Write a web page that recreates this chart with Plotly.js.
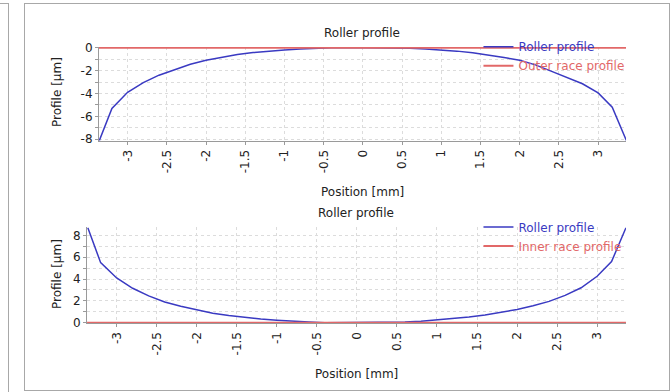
<!DOCTYPE html>
<html>
<head>
<meta charset="utf-8">
<script src="https://cdn.plot.ly/plotly-3.0.1.min.js"></script>
<style>
  html, body { margin: 0; padding: 0; background: #ffffff; width: 672px; height: 392px; overflow: hidden; }
  #leftFrame { position: absolute; left: -10px; top: 3px; width: 17px; height: 400px; border: 1px solid #a8a8a8; }
  #mainFrame { position: absolute; left: 24px; top: 3px; width: 644px; height: 386px; border: 1px solid #a8a8a8; }
  #chart { position: absolute; left: 0; top: 0; width: 672px; height: 392px; }
</style>
</head>
<body>
<div id="leftFrame"></div>
<div id="mainFrame"></div>
<div id="chart"></div>
<script>
// ---- data ----
const positions = [-3.36, -3.2, -3.0, -2.8, -2.6, -2.4, -2.2, -2.0, -1.8, -1.6, -1.4, -1.2, -1.0, -0.8, -0.6, -0.4, 0.0,
                   0.4, 0.6, 0.8, 1.0, 1.2, 1.4, 1.6, 1.8, 2.0, 2.2, 2.4, 2.6, 2.8, 3.0, 3.18, 3.36];
const rollerOuter = [-8.1, -5.3, -3.9, -3.05, -2.4, -1.9, -1.45, -1.1, -0.82, -0.6, -0.43, -0.3, -0.2, -0.11, -0.05, 0, 0,
                     0, -0.05, -0.11, -0.2, -0.3, -0.45, -0.62, -0.85, -1.1, -1.5, -2.05, -2.6, -3.15, -3.95, -5.2, -8.1];
const rollerInner = [8.7, 5.5, 4.1, 3.15, 2.45, 1.9, 1.5, 1.16, 0.87, 0.65, 0.47, 0.33, 0.23, 0.13, 0.06, 0, 0,
                     0, 0.06, 0.13, 0.25, 0.36, 0.52, 0.7, 0.92, 1.2, 1.55, 1.95, 2.5, 3.2, 4.25, 5.6, 8.7];
const racePositions = [-3.37, 3.37];
const outerRace = [0, 0];
const innerRace = [0, 0];

// tick labels (plain hyphen minus as in the reference)
const xTickVals = [-3, -2.5, -2, -1.5, -1, -0.5, 0, 0.5, 1, 1.5, 2, 2.5, 3];
const xTickLabels = ["-3", "-2.5", "-2", "-1.5", "-1", "-0.5", "0", "0.5", "1", "1.5", "2", "2.5", "3"];
const yTopTickVals = [-8, -7, -6, -5, -4, -3, -2, -1, 0];
const yTopTickLabels = ["-8", "", "-6", "", "-4", "", "-2", "", "0"];
const yBottomTickVals = [0, 1, 2, 3, 4, 5, 6, 7, 8];
const yBottomTickLabels = ["0", "", "2", "", "4", "", "6", "", "8"];

const chartTitle = "Roller profile";
const xTitle = "Position [mm]";
const yTitle = "Profile [µm]";
const seriesNames = ["Roller profile", "Outer race profile", "Inner race profile"];

// ---- styling ----
const BLUE = "#3a3ac2";
const RED = "#e26868";
const FONT = "DejaVu Sans, Tahoma, sans-serif";
const GRID = "#dcdcdc";
const AXIS = "#9a9a9a";

const traces = [
  { x: positions, y: rollerOuter, xaxis: "x", yaxis: "y", mode: "lines", name: `<span style="color:${BLUE}">${seriesNames[0]}</span>`,
    line: { color: BLUE, width: 1.5 }, legend: "legend" },
  { x: racePositions, y: outerRace, xaxis: "x", yaxis: "y", mode: "lines", name: `<span style="color:${RED}">${seriesNames[1]}</span>`,
    line: { color: RED, width: 2 }, legend: "legend" },
  { x: positions, y: rollerInner, xaxis: "x2", yaxis: "y2", mode: "lines", name: `<span style="color:${BLUE}">${seriesNames[0]}</span>`,
    line: { color: BLUE, width: 1.5 }, legend: "legend2" },
  { x: racePositions, y: innerRace, xaxis: "x2", yaxis: "y2", mode: "lines", name: `<span style="color:${RED}">${seriesNames[2]}</span>`,
    line: { color: RED, width: 2 }, legend: "legend2" }
];

function xAxis(domain, range, anchor) {
  return {
    domain: domain, range: range, anchor: anchor,
    tickmode: "array", tickvals: xTickVals, ticktext: xTickLabels, tickangle: -90,
    showgrid: true, gridcolor: GRID, griddash: "dot", gridwidth: 1,
    zeroline: false, showline: true, linecolor: AXIS, linewidth: 1,
    ticks: "outside", ticklen: 3, tickcolor: AXIS,
    tickfont: { family: FONT, size: 12, color: "#222" }
  };
}
function yAxis(domain, range, anchor, vals, labels) {
  return {
    domain: domain, range: range, anchor: anchor,
    tickmode: "array", tickvals: vals, ticktext: labels,
    showgrid: true, gridcolor: GRID, griddash: "dot", gridwidth: 1,
    zeroline: false, showline: true, linecolor: AXIS, linewidth: 1,
    ticks: "outside", ticklen: 3, tickcolor: AXIS,
    tickfont: { family: FONT, size: 12, color: "#222" }
  };
}

function ann(text, xref, x, y, angle) {
  return { text: text, xref: xref, yref: "paper", x: x, y: y, xanchor: "center", yanchor: "middle",
           showarrow: false, textangle: angle || 0, font: { family: FONT, size: 12, color: "#222" } };
}

const layout = {
  width: 672, height: 392,
  margin: { l: 0, r: 0, t: 0, b: 0 },
  paper_bgcolor: "rgba(0,0,0,0)", plot_bgcolor: "rgba(0,0,0,0)",
  font: { family: FONT, size: 12, color: "#222" },
  showlegend: true,
  xaxis: xAxis([0.1473, 0.9315], [-3.365, 3.355], "y"),
  yaxis: yAxis([0.6403, 0.8798], [-8.15, 0.05], "x", yTopTickVals, yTopTickLabels),
  xaxis2: xAxis([0.1295, 0.9315], [-3.37, 3.36], "y2"),
  yaxis2: yAxis([0.1755, 0.4204], [-0.05, 8.75], "x2", yBottomTickVals, yBottomTickLabels),
  legend: { x: 0.712, y: 0.918, xanchor: "left", yanchor: "top", bgcolor: "rgba(0,0,0,0)",
            font: { family: FONT, size: 12 }, itemwidth: 30, tracegroupgap: 0 },
  legend2: { x: 0.712, y: 0.458, xanchor: "left", yanchor: "top", bgcolor: "rgba(0,0,0,0)",
             font: { family: FONT, size: 12 }, itemwidth: 30, tracegroupgap: 0 },
  annotations: [
    ann(chartTitle, "x domain", 0.5, 1 - 33 / 392),
    ann(xTitle, "x domain", 0.5, 1 - 192 / 392),
    ann(yTitle, "paper", 57 / 672, 1 - 92 / 392, -90),
    ann(chartTitle, "x2 domain", 0.5, 1 - 213 / 392),
    ann(xTitle, "x2 domain", 0.5, 1 - 374 / 392),
    ann(yTitle, "paper", 57 / 672, 1 - 274 / 392, -90)
  ]
};

Plotly.newPlot("chart", traces, layout, { staticPlot: true, displayModeBar: false });
</script>
</body>
</html>
